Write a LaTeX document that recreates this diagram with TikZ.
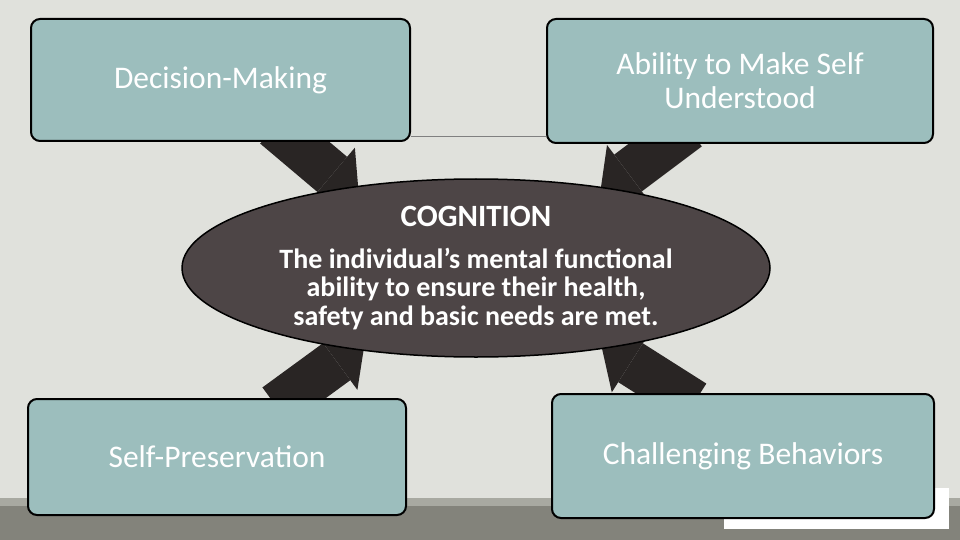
\documentclass[tikz,border=0pt]{standalone}
\usepackage{fontspec}
\setmainfont{Carlito}
\usetikzlibrary{shapes.geometric, calc, backgrounds}
\usepackage{xcolor}
\definecolor{slidebg}{HTML}{E0E1DC}
\definecolor{boxfill}{HTML}{9CBEBD}
\definecolor{ovalfill}{HTML}{4D4546}
\definecolor{arrowfill}{HTML}{292524}
\definecolor{stripdark}{HTML}{83837B}
\definecolor{striplight}{HTML}{A8A9A1}

\begin{document}
\begin{tikzpicture}[
    x=1pt, y=-1pt,
    topic/.style={draw=black, line width=2pt, rounded corners=9pt, fill=boxfill, text=white, align=center, inner sep=0pt, font=\fontsize{31.5}{34}\selectfont},
    core/.style={ellipse, draw=black, line width=1.5pt, fill=ovalfill, text=white, align=center, inner sep=0pt, minimum width=588pt, minimum height=178pt, font=\bfseries\fontsize{28}{28.5}\selectfont},
    shaft/.style={line width=46pt, draw=arrowfill},
    head/.style={fill=arrowfill}
]
\useasboundingbox (0,0) rectangle (960,540);

\node[core] (cog) at (476,268) {{\fontsize{31}{32}\selectfont COGNITION}\\[13pt]
    The individual’s mental functional\\ability to ensure their health,\\safety and basic needs are met.};

\node[topic, minimum width=379pt, minimum height=122pt] (dm) at (220.5,80) {Decision-Making};
\node[topic, minimum width=386pt, minimum height=124pt] (au) at (740,81) {Ability to Make Self\\Understood};
\node[topic, minimum width=378pt, minimum height=116pt] (sp) at (217,457) {Self-Preservation};
\node[topic, minimum width=382pt, minimum height=124pt] (cb) at (743,456) {Challenging Behaviors};

\coordinate (s1) at ([shift={(54.5,46)}]dm.center);
\coordinate (t1) at ([shift={(-117,-71)}]cog.center);
\coordinate (s2) at ([shift={(-52,47)}]au.center);
\coordinate (t2) at ([shift={(124,-74)}]cog.center);
\coordinate (s3) at ([shift={(59,-51)}]sp.center);
\coordinate (t3) at ([shift={(-111,73)}]cog.center);
\coordinate (s4) at ([shift={(-49,-53)}]cb.center);
\coordinate (t4) at ([shift={(125,76)}]cog.center);
\coordinate (b1) at ($(t1)!35pt!(s1)$);
\coordinate (b2) at ($(t2)!35pt!(s2)$);
\coordinate (b3) at ($(t3)!35pt!(s3)$);
\coordinate (b4) at ($(t4)!35pt!(s4)$);

\begin{scope}[on background layer]
\fill[slidebg] (0,0) rectangle (960,540);
\fill[striplight] (0,498) rectangle (960,506);
\fill[stripdark] (0,506) rectangle (960,540);
\fill[white] (724,488) rectangle (949,529);
\draw[gray, line width=1pt] ([yshift=5pt]dm.south east) -- ([yshift=7pt]au.south west);

\draw[shaft] (s1) -- (b1);
\fill[head] (t1) -- ($(b1)!35pt!90:(t1)$) -- ($(b1)!35pt!-90:(t1)$) -- cycle;
\draw[shaft] (s2) -- (b2);
\fill[head] (t2) -- ($(b2)!35pt!90:(t2)$) -- ($(b2)!35pt!-90:(t2)$) -- cycle;
\draw[shaft] (s3) -- (b3);
\fill[head] (t3) -- ($(b3)!35pt!90:(t3)$) -- ($(b3)!35pt!-90:(t3)$) -- cycle;
\draw[shaft] (s4) -- (b4);
\fill[head] (t4) -- ($(b4)!35pt!90:(t4)$) -- ($(b4)!35pt!-90:(t4)$) -- cycle;
\end{scope}

\end{tikzpicture}
\end{document}
